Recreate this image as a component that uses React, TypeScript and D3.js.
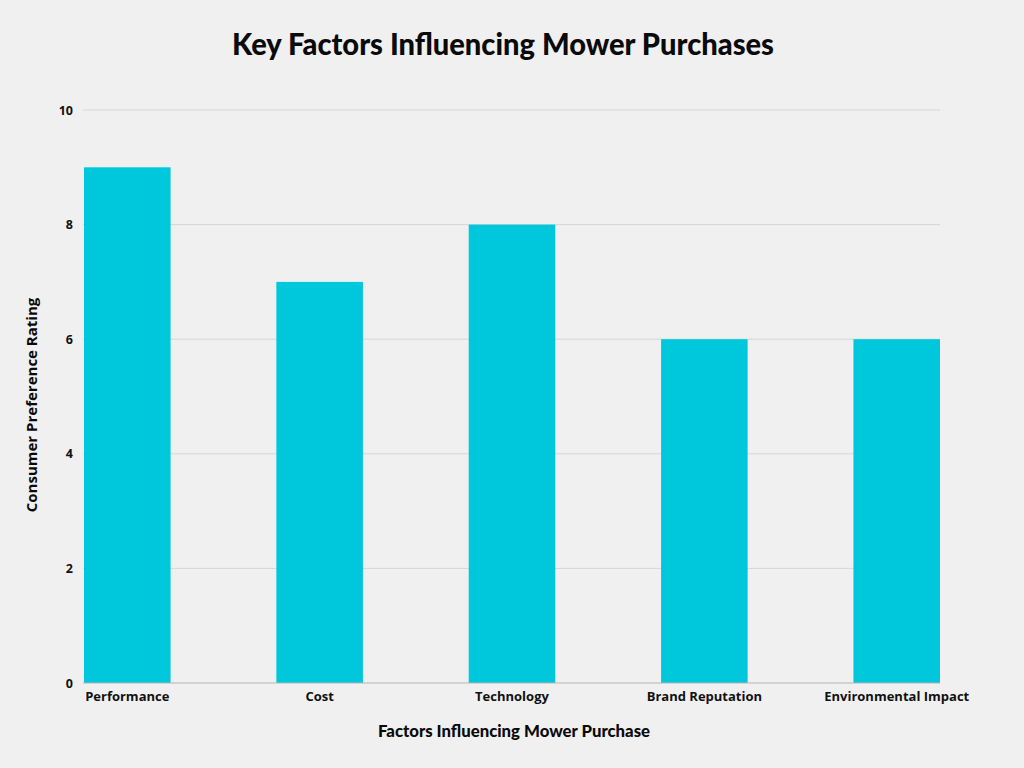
import React, { useEffect, useRef } from 'react';
import * as d3 from 'd3';

const categories = ['Performance', 'Cost', 'Technology', 'Brand Reputation', 'Environmental Impact'];
const ratings = [9, 7, 8, 6, 6];
const yTicks = [0, 2, 4, 6, 8, 10];

const App: React.FC = () => {
  const svgRef = useRef<SVGSVGElement>(null);

  useEffect(() => {
    if (!svgRef.current) return;
    const svg = d3.select(svgRef.current);
    svg.selectAll('*').remove();

    const width = 1024;
    const height = 768;
    const margin = { top: 110, right: 84, bottom: 85, left: 84 };

    svg.append('rect').attr('width', width).attr('height', height).attr('fill', '#f0f0f0');

    const x = d3.scaleBand<string>()
      .domain(categories)
      .range([margin.left, width - margin.right])
      .paddingInner(0.55)
      .paddingOuter(0);

    const y = d3.scaleLinear()
      .domain([0, 10])
      .range([height - margin.bottom, margin.top]);

    // gridlines
    svg.append('g')
      .selectAll('line')
      .data(yTicks.filter(t => t > 0))
      .enter().append('line')
      .attr('x1', margin.left - 1)
      .attr('x2', width - margin.right)
      .attr('y1', d => y(d))
      .attr('y2', d => y(d))
      .attr('stroke', '#d6d6d6')
      .attr('stroke-width', 1);

    // bars
    svg.append('g')
      .selectAll('rect')
      .data(ratings)
      .enter().append('rect')
      .attr('x', (d, i) => x(categories[i])!)
      .attr('y', d => y(d))
      .attr('width', x.bandwidth())
      .attr('height', d => y(0) - y(d))
      .attr('fill', '#00c8dc');

    // baseline
    svg.append('line')
      .attr('x1', margin.left - 1)
      .attr('x2', width - margin.right)
      .attr('y1', y(0))
      .attr('y2', y(0))
      .attr('stroke', '#b5b5b5')
      .attr('stroke-width', 1);

    // y tick labels
    svg.append('g')
      .selectAll('text')
      .data(yTicks)
      .enter().append('text')
      .attr('x', 73)
      .attr('y', d => y(d) + 4.5)
      .attr('text-anchor', 'end')
      .attr('font-family', '"Open Sans", sans-serif')
      .attr('font-weight', 700)
      .attr('font-size', 12.5)
      .attr('fill', '#111')
      .text(d => d);

    // x category labels
    svg.append('g')
      .selectAll('text')
      .data(categories)
      .enter().append('text')
      .attr('x', d => x(d)! + x.bandwidth() / 2)
      .attr('y', y(0) + 18)
      .attr('text-anchor', 'middle')
      .attr('font-family', '"Open Sans", sans-serif')
      .attr('font-weight', 700)
      .attr('font-size', 13)
      .attr('fill', '#111')
      .text(d => d);

    // title
    svg.append('text')
      .attr('x', 503)
      .attr('y', 55)
      .attr('text-anchor', 'middle')
      .attr('font-family', 'Lato, sans-serif')
      .attr('font-weight', 900)
      .attr('font-size', 30)
      .attr('textLength', 542)
      .attr('lengthAdjust', 'spacingAndGlyphs')
      .attr('fill', '#0a0a0a')
      .text('Key Factors Influencing Mower Purchases');

    // x axis title
    svg.append('text')
      .attr('x', 514)
      .attr('y', 737)
      .attr('text-anchor', 'middle')
      .attr('font-family', 'Lato, sans-serif')
      .attr('font-weight', 900)
      .attr('font-size', 17)
      .attr('textLength', 272)
      .attr('lengthAdjust', 'spacingAndGlyphs')
      .attr('fill', '#0a0a0a')
      .text('Factors Influencing Mower Purchase');

    // y axis title
    svg.append('text')
      .attr('transform', 'translate(37,405) rotate(-90)')
      .attr('text-anchor', 'middle')
      .attr('font-family', '"Open Sans", sans-serif')
      .attr('font-weight', 700)
      .attr('font-size', 15)
      .attr('fill', '#0a0a0a')
      .text('Consumer Preference Rating');
  }, []);

  return (
    <div style={{ position: 'absolute', left: 0, top: 0, width: 1024, height: 768 }}>
      <svg ref={svgRef} width={1024} height={768} viewBox="0 0 1024 768" style={{ display: 'block' }} />
    </div>
  );
};

export default App;
